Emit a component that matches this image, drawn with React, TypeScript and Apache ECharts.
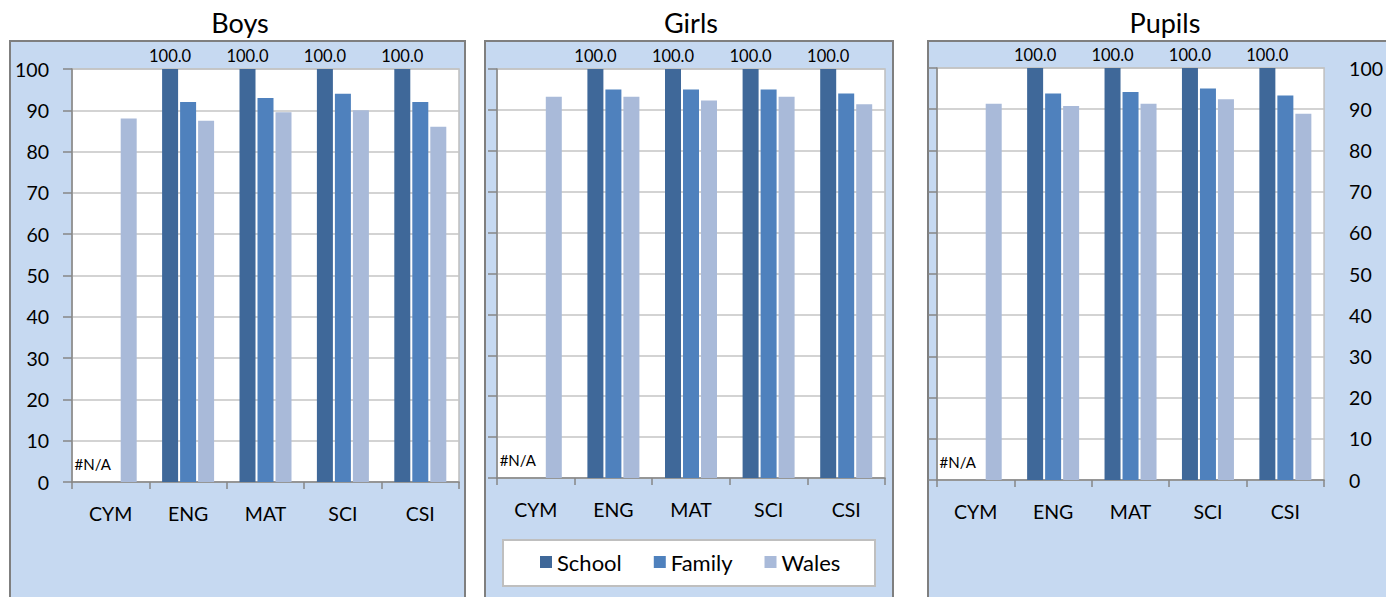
import React, { useEffect, useRef } from "react";
import * as echarts from "echarts";

const categories = ["CYM", "ENG", "MAT", "SCI", "CSI"];
const panelTitles = ["Boys", "Girls", "Pupils"];
const seriesNames = ["School", "Family", "Wales"];

const boysSchool: (number | null)[] = [null, 100, 100, 100, 100];
const boysFamily: (number | null)[] = [null, 92, 93, 94, 92];
const boysWales: (number | null)[] = [88, 87.5, 89.5, 90, 86];

const girlsSchool: (number | null)[] = [null, 100, 100, 100, 100];
const girlsFamily: (number | null)[] = [null, 95, 95, 95, 94];
const girlsWales: (number | null)[] = [93.2, 93.2, 92.3, 93.2, 91.4];

const pupilsSchool: (number | null)[] = [null, 100, 100, 100, 100];
const pupilsFamily: (number | null)[] = [null, 93.8, 94.2, 95, 93.3];
const pupilsWales: (number | null)[] = [91.3, 90.8, 91.3, 92.4, 88.9];

const yTicks = [0, 10, 20, 30, 40, 50, 60, 70, 80, 90, 100];

const COLORS = ["#3F6899", "#4F81BD", "#A9BAD9"];
const FONT = "Lato";

export default function App() {
  const ref = useRef<HTMLDivElement>(null);

  useEffect(() => {
    if (!ref.current) return;
    const chart = echarts.init(ref.current, undefined, { renderer: "svg" });

    const panels = [
      { s: boysSchool, f: boysFamily, w: boysWales },
      { s: girlsSchool, f: girlsFamily, w: girlsWales },
      { s: pupilsSchool, f: pupilsFamily, w: pupilsWales },
    ];

    const grids = [
      { left: 72, top: 69, width: 387, height: 413 },
      { left: 497, top: 69, width: 388, height: 409 },
      { left: 937, top: 68, width: 389, height: 412 },
    ];

    const yMin = yTicks[0];
    const yMax = yTicks[yTicks.length - 1];
    const yInt = yTicks[1] - yTicks[0];

    const axisLineStyle = { color: "#868686", width: 1.5 };

    const xAxis = grids.map((_, i) => ({
      type: "category",
      gridIndex: i,
      data: categories,
      axisLine: { show: true, lineStyle: axisLineStyle },
      axisTick: { show: true, length: 7, lineStyle: axisLineStyle },
      axisLabel: { color: "#000", fontSize: 19.5, fontFamily: FONT, margin: 21 },
      splitLine: { show: false },
    }));

    const yAxis: any[] = grids.map((_, i) => ({
      type: "value",
      gridIndex: i,
      position: "left",
      min: yMin,
      max: yMax,
      interval: yInt,
      axisLine: { show: true, lineStyle: axisLineStyle },
      axisTick: { show: true, length: 9, lineStyle: axisLineStyle },
      axisLabel: {
        show: i === 0,
        color: "#000",
        fontSize: 19.5,
        fontFamily: FONT,
        margin: 23,
      },
      splitLine: { show: true, lineStyle: { color: "#C4C4C4", width: 1.5 } },
    }));
    yAxis.push({
      type: "value",
      gridIndex: 2,
      position: "right",
      min: yMin,
      max: yMax,
      interval: yInt,
      axisLine: { show: false },
      axisTick: { show: false },
      axisLabel: { show: true, color: "#000", fontSize: 19.5, fontFamily: FONT, margin: 25 },
      splitLine: { show: false },
    });

    const series: any[] = [];
    panels.forEach((p, i) => {
      const arrs = [p.s, p.f, p.w];
      arrs.forEach((arr, k) => {
        const data = arr.map((v) => {
          if (v === null) {
            if (k === 0) {
              return {
                value: 0,
                label: {
                  show: true,
                  formatter: "#N/A",
                  fontSize: 15,
                  distance: 11,
                },
              };
            }
            return null;
          }
          return v;
        });
        series.push({
          type: "bar",
          name: seriesNames[k],
          xAxisIndex: i,
          yAxisIndex: i,
          data,
          barWidth: 16,
          barGap: "12.5%",
          itemStyle: { color: COLORS[k] },
          label:
            k === 0
              ? {
                  show: true,
                  position: "top",
                  distance: 5,
                  color: "#000",
                  fontSize: 16.5,
                  fontFamily: FONT,
                  formatter: (pp: any) => Number(pp.value).toFixed(1),
                }
              : { show: false },
          emphasis: { disabled: true },
        });
      });
    });

    const titleCenters = [235, 686, 1160];

    chart.setOption({
      animation: false,
      backgroundColor: "#FFFFFF",
      title: panelTitles.map((t, i) => ({
        text: t,
        left: titleCenters[i],
        top: 4,
        textAlign: "center",
        textStyle: { fontSize: 27, fontWeight: "normal", color: "#000", fontFamily: FONT },
      })),
      graphic: [
        {
          type: "rect",
          z: -10,
          shape: { x: 10, y: 41, width: 455, height: 570 },
          style: { fill: "#C6D9F1", stroke: "#7F7F7F", lineWidth: 2 },
        },
        {
          type: "rect",
          z: -10,
          shape: { x: 485, y: 41, width: 408, height: 570 },
          style: { fill: "#C6D9F1", stroke: "#7F7F7F", lineWidth: 2 },
        },
        {
          type: "rect",
          z: -10,
          shape: { x: 928, y: 41, width: 470, height: 570 },
          style: { fill: "#C6D9F1", stroke: "#7F7F7F", lineWidth: 2 },
        },
        {
          type: "rect",
          z: -5,
          shape: { x: 503, y: 540, width: 372, height: 46 },
          style: { fill: "#FFFFFF", stroke: "#BFBFBF", lineWidth: 2 },
        },
      ],
      legend: {
        data: seriesNames,
        left: 540,
        top: 551,
        padding: 0,
        itemWidth: 12,
        itemHeight: 12,
        itemGap: 32,
        icon: "rect",
        textStyle: { fontSize: 22, color: "#000", fontFamily: FONT },
      },
      grid: grids.map((g) => ({
        ...g,
        show: true,
        backgroundColor: "#FFFFFF",
        borderColor: "#BFBFBF",
        borderWidth: 1.5,
        containLabel: false,
      })),
      xAxis,
      yAxis,
      series,
    });

    return () => chart.dispose();
  }, []);

  return (
    <div
      ref={ref}
      style={{ position: "fixed", left: 0, top: 0, width: 1386, height: 597 }}
    />
  );
}
